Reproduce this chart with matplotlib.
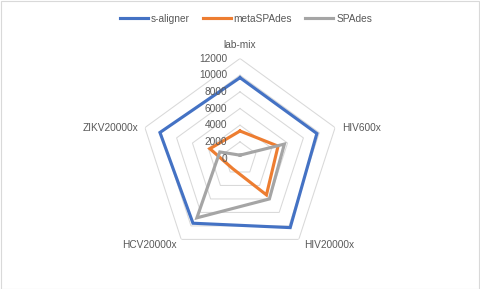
import numpy as np
import matplotlib
matplotlib.use("Agg")
import matplotlib.pyplot as plt
from matplotlib.patches import Rectangle

categories = ["lab-mix", "HIV600x", "HIV20000x", "HCV20000x", "ZIKV20000x"]
series_names = ["s-aligner", "metaSPAdes", "SPAdes"]
s_aligner = [9700, 9700, 10250, 9600, 10100]
metaspades = [3300, 4800, 5400, 1500, 3800]
spades = [400, 5600, 6000, 8800, 2550]
ticks = [0, 2000, 4000, 6000, 8000, 10000, 12000]

colors = ["#4472C4", "#ED7D31", "#A5A5A5"]
text_color = "#595959"
grid_color = "#D9D9D9"
fs = 7.3
plt.rcParams['font.family'] = ['Liberation Sans', 'DejaVu Sans']

W, H = 480, 289
fig = plt.figure(figsize=(W / 100, H / 100), dpi=100)
fig.patch.set_facecolor("white")
fig.add_artist(Rectangle((0.5 / W, 0.5 / H), 1 - 1.5 / W, 1 - 1.5 / H, transform=fig.transFigure,
                         fill=False, edgecolor=grid_color, lw=0.8))

cx, cy, R = 240, 158.5, 100
ax = fig.add_axes([(cx - R) / W, (H - cy - R) / H, 2 * R / W, 2 * R / H], projection="polar")
ax.set_theta_offset(np.pi / 2)
ax.set_theta_direction(-1)
ax.set_ylim(0, 12000)
ax.grid(False)
ax.set_xticks([])
ax.set_yticks([])
ax.spines["polar"].set_visible(False)
ax.patch.set_alpha(0)

n = len(categories)
theta = np.arange(n) * 2 * np.pi / n
theta_c = np.append(theta, theta[0])

for t in ticks[1:]:
    ax.plot(theta_c, [t] * (n + 1), color=grid_color, lw=0.75, zorder=1)

for name, vals, c in zip(series_names, [s_aligner, metaspades, spades], colors):
    ax.plot(theta_c, list(vals) + [vals[0]], color=c, lw=2.25, label=name, zorder=3,
            solid_joinstyle="miter")

for t in ticks:
    ax.annotate(str(t), (0, t), xytext=(-13, 0), textcoords="offset pixels",
                ha="right", va="center", fontsize=fs, color=text_color)

offsets = [(0, 13.5, "center"), (7.5, 0, "left"), (5, -6, "left"), (-4.5, -6, "right"), (-7, 0, "right")]
for th, lab, (dx, dy, ha) in zip(theta, categories, offsets):
    ax.annotate(lab, (th, 12000), xytext=(dx, dy), textcoords="offset pixels",
                ha=ha, va="center", fontsize=fs, color=text_color, annotation_clip=False)

leg = fig.legend(loc="center", bbox_to_anchor=(246 / W, 1 - 19 / H), ncol=3, frameon=False,
                 fontsize=fs, handlelength=2.75, handletextpad=0.3, columnspacing=1.3,
                 labelcolor=text_color)

fig.savefig("out.png", dpi=100, facecolor="white")
